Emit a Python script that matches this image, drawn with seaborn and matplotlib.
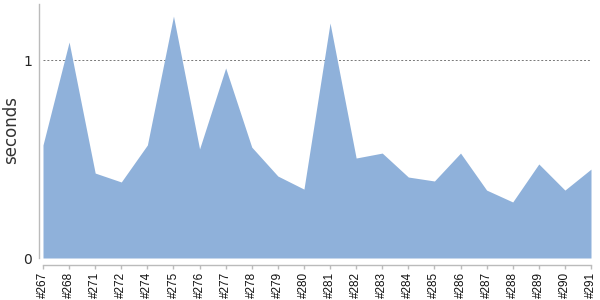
import matplotlib
matplotlib.use("Agg")
import matplotlib.pyplot as plt
import seaborn as sns
import pandas as pd
import numpy as np

builds = ["#267", "#268", "#271", "#272", "#274", "#275", "#276", "#277", "#278",
          "#279", "#280", "#281", "#282", "#283", "#284", "#285", "#286", "#287",
          "#288", "#289", "#290", "#291"]
seconds = [0.571, 1.091, 0.429, 0.384, 0.571, 1.222, 0.551, 0.960, 0.560,
           0.414, 0.348, 1.187, 0.505, 0.530, 0.409, 0.389, 0.530, 0.343,
           0.283, 0.475, 0.343, 0.449]

sns.set_style("white")
plt.rcParams['font.family'] = ['DejaVu Sans']

df = pd.DataFrame({"build": builds, "seconds": seconds})
df["pos"] = np.arange(len(df))

fig = plt.figure(figsize=(6, 3), dpi=100)
ax = fig.add_axes([43/600, 1 - 258/300, (591 - 43)/600, (258 - 4)/300])

sns.lineplot(data=df, x="pos", y="seconds", ax=ax, color="#8fb1da", linewidth=0)
ax.fill_between(df["pos"], 0, df["seconds"], color="#8fb1da", linewidth=0)

ax.set_xlim(0, len(df) - 1)
ax.set_ylim(0, 1.283)
ax.set_yticks([0, 1])
ax.set_yticklabels(["0", "1"], fontsize=9, color="#444444")
ax.set_xlabel("")
ax.set_ylabel("seconds", fontsize=12, color="#333333")
ax.yaxis.set_label_coords(-0.042, 0.504)

ax.axhline(1, color="#777777", linestyle=(0, (2, 2)), linewidth=0.7, zorder=0.5)

for s in ["top", "right"]:
    ax.spines[s].set_visible(False)
ax.spines["left"].set_position(("outward", 3))
ax.spines["bottom"].set_position(("outward", 5))
ax.spines["left"].set_color("#bbbbbb")
ax.spines["bottom"].set_color("#bbbbbb")
ax.spines["left"].set_linewidth(1)
ax.spines["bottom"].set_linewidth(1)
ax.tick_params(axis="x", bottom=True, length=3, width=1, color="#bbbbbb", pad=2)
ax.tick_params(axis="y", left=False, length=0, pad=5)

ax.set_xticks(df["pos"].tolist())
ax.set_xticklabels(df["build"].tolist())
for lab in ax.get_xticklabels():
    lab.set_rotation(90)
    lab.set_fontfamily("Liberation Sans")
    lab.set_fontsize(8.5)
    lab.set_color("#111111")

fig.savefig("out.png", dpi=100)
